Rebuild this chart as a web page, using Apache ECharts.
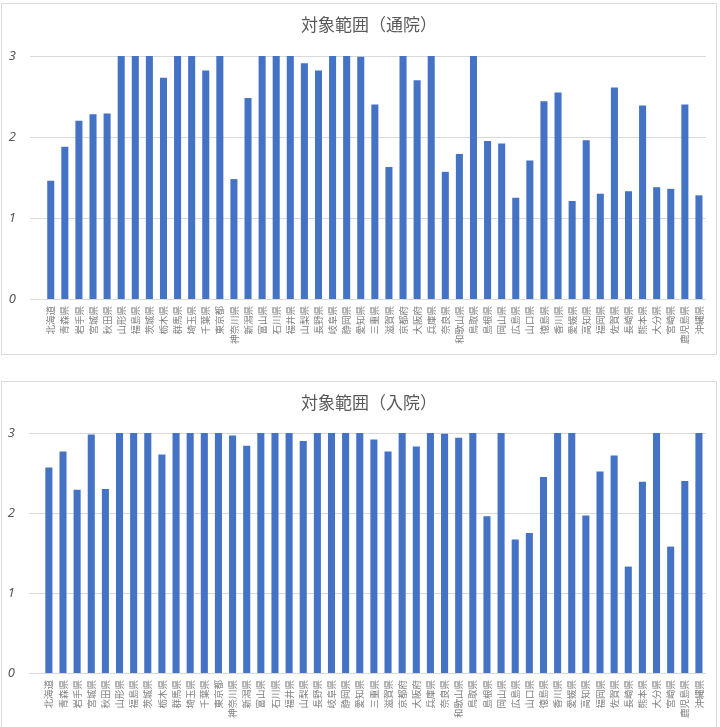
<!DOCTYPE html>
<html>
<head>
<meta charset="utf-8">
<script src="https://cdn.jsdelivr.net/npm/echarts@6/dist/echarts.min.js"></script>
<style>
  html, body { margin: 0; padding: 0; background: #fff; }
  #main { width: 720px; height: 727px; }
</style>
</head>
<body>
<div id="main"></div>
<script>
// 都道府県
const prefectures = ['北海道','青森県','岩手県','宮城県','秋田県','山形県','福島県','茨城県','栃木県','群馬県',
  '埼玉県','千葉県','東京都','神奈川県','新潟県','富山県','石川県','福井県','山梨県','長野県',
  '岐阜県','静岡県','愛知県','三重県','滋賀県','京都府','大阪府','兵庫県','奈良県','和歌山県',
  '鳥取県','島根県','岡山県','広島県','山口県','徳島県','香川県','愛媛県','高知県','福岡県',
  '佐賀県','長崎県','熊本県','大分県','宮崎県','鹿児島県','沖縄県'];

// 通院
const outpatient = [1.46,1.88,2.20,2.28,2.29,3,3,3,2.73,3,
  3,2.82,3,1.48,2.48,3,3,3,2.91,2.82,
  3,3,2.99,2.40,1.63,3,2.70,3,1.57,1.79,
  3,1.95,1.92,1.25,1.71,2.44,2.55,1.21,1.96,1.30,
  2.61,1.33,2.39,1.38,1.36,2.40,1.28];

// 入院
const inpatient = [2.57,2.77,2.29,2.98,2.30,3,3,3,2.73,3,
  3,3,3,2.97,2.84,3,3,3,2.90,3,
  3,3,3,2.92,2.77,3,2.83,3,2.99,2.94,
  3,1.96,3,1.67,1.75,2.45,3,3,1.97,2.52,
  2.72,1.33,2.39,3,1.58,2.40,3];

const yTicks = [0, 1, 2, 3];
const titles = ['対象範囲（通院）', '対象範囲（入院）'];

const barColor = '#4472C4';
const gridColor = '#d9d9d9';
const textColor = '#595959';

let chart = echarts.init(document.getElementById('main'), null, {renderer: 'canvas'});

// panel: 上 / 下
const panels = [
  {top: 56, height: 243, lineLeft: 30, barLeft: 43.7, data: outpatient},
  {top: 433, height: 240, lineLeft: 29, barLeft: 41.8, data: inpatient}
];

let grid = [], xAxis = [], yAxis = [], series = [];
panels.forEach((p, i) => {
  // gridlines + y labels
  grid.push({left: p.lineLeft, right: 14, top: p.top, height: p.height});
  // bars
  grid.push({left: p.barLeft, right: 14, top: p.top, height: p.height});

  xAxis.push({gridIndex: i * 2, type: 'category', data: prefectures, show: false});
  yAxis.push({
    gridIndex: i * 2, type: 'value', min: yTicks[0], max: yTicks[yTicks.length - 1], interval: 1,
    axisLine: {show: false}, axisTick: {show: false},
    axisLabel: {color: textColor, fontSize: 13, fontStyle: 'italic', margin: 14, fontFamily: 'Noto Sans'},
    splitLine: {lineStyle: {color: gridColor, width: 1}}
  });

  xAxis.push({
    gridIndex: i * 2 + 1, type: 'category', data: prefectures,
    axisLine: {show: false}, axisTick: {show: false},
    axisLabel: {interval: 0, rotate: 90, fontSize: 9.5, color: '#808080', margin: 7,
      fontFamily: 'Noto Sans CJK JP'}
  });
  yAxis.push({gridIndex: i * 2 + 1, type: 'value', min: 0, max: 3, show: false});

  series.push({
    type: 'bar', xAxisIndex: i * 2 + 1, yAxisIndex: i * 2 + 1,
    data: p.data, barWidth: '50%', itemStyle: {color: barColor}, silent: true
  });
});

let option = {
  animation: false,
  textStyle: {fontFamily: 'Noto Sans CJK JP'},
  title: titles.map((t, i) => ({
    text: t, left: 369, top: i === 0 ? 16 : 394, textAlign: 'center', padding: 0,
    textStyle: {color: textColor, fontSize: 17, fontWeight: 'normal', fontFamily: 'Noto Sans CJK JP'}
  })),
  graphic: [
    {type: 'rect', shape: {x: 1.5, y: 3.5, width: 715, height: 351},
      style: {fill: 'none', stroke: gridColor, lineWidth: 1}, z: -1},
    {type: 'rect', shape: {x: 1.5, y: 381.5, width: 715, height: 360},
      style: {fill: 'none', stroke: gridColor, lineWidth: 1}, z: -1}
  ],
  grid: grid,
  xAxis: xAxis,
  yAxis: yAxis,
  series: series
};

chart.setOption(option);
</script>
</body>
</html>
